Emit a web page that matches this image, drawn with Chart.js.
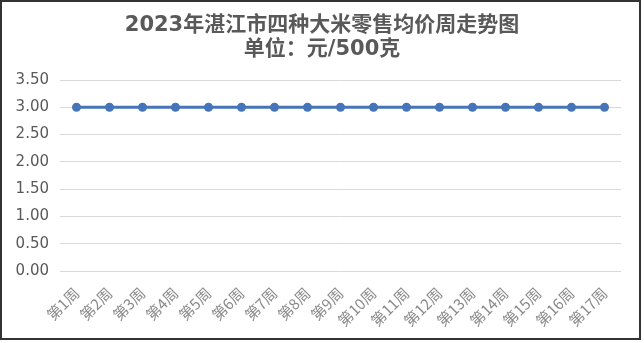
<!DOCTYPE html>
<html>
<head>
<meta charset="utf-8">
<script src="https://cdn.jsdelivr.net/npm/chart.js@4/dist/chart.umd.min.js"></script>
<style>
html,body{margin:0;padding:0;background:#fff;}
#wrap{position:relative;width:644px;height:343px;}
#frame{position:absolute;left:0;top:0;width:637px;height:336px;border:2px solid #333;pointer-events:none;}
canvas{position:absolute;left:0;top:0;}
</style>
</head>
<body>
<div id="wrap">
<canvas id="c" width="644" height="343"></canvas>
<div id="frame"></div>
</div>
<script>
const titleLines = ["2023年湛江市四种大米零售均价周走势图", "单位：元/500克"];
const categories = ["第1周","第2周","第3周","第4周","第5周","第6周","第7周","第8周","第9周","第10周","第11周","第12周","第13周","第14周","第15周","第16周","第17周"];
const prices = [3.00,3.00,3.00,3.00,3.00,3.00,3.00,3.00,3.00,3.00,3.00,3.00,3.00,3.00,3.00,3.00,3.00];
const yMin = 0, yMax = 3.5, yStep = 0.5;

new Chart(document.getElementById('c'), {
  type: 'line',
  data: {
    labels: categories,
    datasets: [{
      data: prices,
      borderColor: '#4674b9',
      backgroundColor: '#4674b9',
      borderWidth: 3,
      pointRadius: 4.5,
      pointBackgroundColor: '#4674b9',
      pointBorderWidth: 0,
      tension: 0
    }]
  },
  options: {
    responsive: false,
    animation: false,
    devicePixelRatio: 1,
    layout: { padding: 0 },
    plugins: {
      legend: { display: false },
      tooltip: { enabled: false },
      title: {
        display: true,
        text: titleLines,
        color: '#595959',
        font: { family: '"DejaVu Sans", "Noto Sans CJK SC", sans-serif', size: 21, weight: 'bold', lineHeight: 1.15 },
        padding: { top: 13, bottom: 18.7 }
      }
    },
    scales: {
      x: {
        offset: true,
        grid: { display: false, drawTicks: false },
        border: { display: false },
        ticks: {
          color: '#8a8a8a',
          font: { family: '"Noto Sans CJK SC", sans-serif', size: 15 },
          minRotation: 45, maxRotation: 45,
          padding: 13,
          autoSkip: false
        },
        afterFit: (s) => { s.height = 72; }
      },
      y: {
        min: yMin, max: yMax,
        grid: { color: '#d9d9d9', lineWidth: 1, drawTicks: false },
        border: { display: false },
        ticks: {
          stepSize: yStep,
          color: '#595959',
          padding: 11,
          font: { family: '"DejaVu Sans", sans-serif', size: 15 },
          callback: (v) => Number(v).toFixed(2)
        },
        afterFit: (s) => { s.width = 60; }
      },
      yr: {
        position: 'right',
        min: yMin, max: yMax,
        grid: { display: false, drawTicks: false },
        border: { display: false },
        ticks: { display: false },
        afterFit: (s) => { s.width = 23; }
      }
    }
  }
});
</script>
</body>
</html>
